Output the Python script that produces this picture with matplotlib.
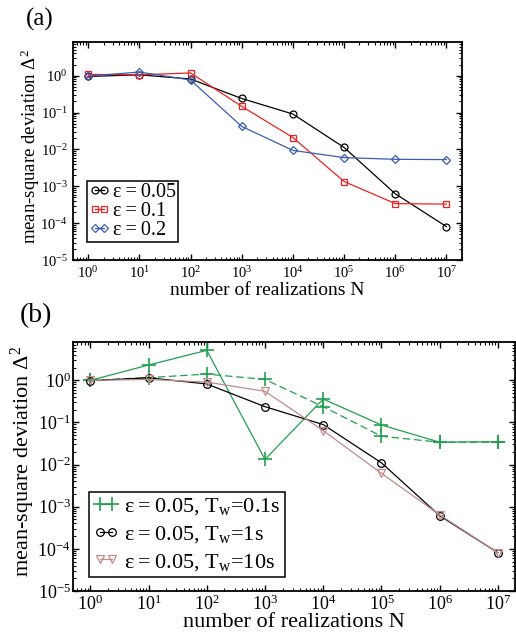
import numpy as np
import matplotlib
matplotlib.use("Agg")
import matplotlib.pyplot as plt
from matplotlib.ticker import LogLocator, NullFormatter

plt.rcParams['font.family'] = ['Liberation Serif', 'DejaVu Serif']
plt.rcParams['mathtext.fontset'] = 'custom'
plt.rcParams['mathtext.rm'] = 'Liberation Serif'
plt.rcParams['mathtext.it'] = 'Liberation Serif'

# number of realizations
N = [1e0, 1e1, 1e2, 1e3, 1e4, 1e5, 1e6, 1e7]

# panel (a): different epsilon
eps005 = [0.95, 1.05, 0.81, 0.24, 0.091, 0.0113, 6.3e-4, 8.1e-5]
eps01 = [1.08, 1.05, 1.18, 0.147, 0.021, 1.35e-3, 3.4e-4, 3.3e-4]
eps02 = [0.97, 1.25, 0.76, 0.042, 0.0094, 0.006, 0.0054, 0.0053]

# panel (b): eps = 0.05, different waiting times
tw01 = [1.0, 2.31, 5.15, 0.0133, 0.36, 0.087, 0.034, 0.035]
tw01_dash = [1.0, 1.16, 1.41, 1.05, 0.237, 0.047, 0.034, 0.034]
tw1 = [0.98, 1.15, 0.82, 0.237, 0.089, 0.011, 6.1e-4, 8.1e-5]
tw10 = [1.0, 1.05, 0.91, 0.55, 0.064, 0.0062, 6.4e-4, 8.1e-5]

GREEN = '#22a050'
RED = '#ee2222'
BLUE = '#3a5db0'
ROSE = '#c08a8a'
TS = '\u2009'  # thin space

fig = plt.figure(figsize=(5.16, 6.36), dpi=100)
axa = fig.add_axes([0.141, 0.591, 0.754, 0.3425])
axb = fig.add_axes([0.141, 0.0708, 0.858, 0.391])


def style(ax, fs, tfs, xpad, ypad, xl, yl):
    ax.set_xscale('log')
    ax.set_yscale('log')
    ax.set_xlim(0.5, 2e7)
    ax.set_ylim(1e-5, 8)
    ax.xaxis.set_major_locator(LogLocator(base=10, numticks=20))
    ax.yaxis.set_major_locator(LogLocator(base=10, numticks=20))
    ax.xaxis.set_minor_locator(LogLocator(base=10, subs=np.arange(2, 10), numticks=20))
    ax.yaxis.set_minor_locator(LogLocator(base=10, subs=np.arange(2, 10), numticks=20))
    ax.xaxis.set_minor_formatter(NullFormatter())
    ax.yaxis.set_minor_formatter(NullFormatter())
    ax.tick_params(which='both', direction='in', top=True, right=True, labelsize=tfs)
    ax.tick_params(which='major', length=4.5, width=1)
    ax.tick_params(which='minor', length=2.3, width=0.8)
    ax.tick_params(axis='x', pad=xpad)
    ax.tick_params(axis='y', pad=ypad)
    for s in ax.spines.values():
        s.set_linewidth(1.3)
    ax.set_xlabel('number of realizations N', fontsize=fs[0])
    ax.set_ylabel(r'mean-square deviation $\Delta^2$', fontsize=fs[1])
    ax.xaxis.set_label_coords(0.5, xl)
    ax.yaxis.set_label_coords(yl, 0.52)


style(axa, (14, 13.5), 10.5, 3.5, 3.5, -0.10, -0.080)
mk = dict(markerfacecolor='none', markeredgewidth=0.9, linewidth=0.9)
axa.plot(N, eps005, '-o', color='black', markersize=5, label=f'ε{TS}={TS}0.05', **mk)
axa.plot(N, eps01, '-s', color=RED, markersize=4.5, label=f'ε{TS}={TS}0.1', **mk)
axa.plot(N, eps02, '-D', color=BLUE, markersize=3.6, label=f'ε{TS}={TS}0.2', **mk)
leg = axa.legend(loc='lower left', bbox_to_anchor=(0.037, 0.083), fontsize=14.5, frameon=True,
                 fancybox=False, edgecolor='black', handlelength=1.05, handletextpad=0.15,
                 borderpad=0.1, labelspacing=0.0, borderaxespad=0, numpoints=2,
                 framealpha=1)
leg.get_frame().set_linewidth(1.1)

style(axb, (16, 16), 13, 2.5, 1.5, -0.088, -0.081)
axb.plot(N, tw01, '-+', color=GREEN, markersize=10, markeredgewidth=1.2, linewidth=0.9,
         label=f'ε{TS}={TS}0.05, T$_\\mathrm{{w}}$=0.1s')
axb.plot(N, tw01_dash, '--+', color=GREEN, markersize=10, markeredgewidth=1.2, linewidth=0.9,
         dashes=(6, 3))
axb.plot(N, tw1, '-o', color='black', markersize=5.5, label=f'ε{TS}={TS}0.05, T$_\\mathrm{{w}}$=1s', **mk)
axb.plot(N, tw10, '-v', color=ROSE, markersize=5.5, label=f'ε{TS}={TS}0.05, T$_\\mathrm{{w}}$=10s', **mk)
leg = axb.legend(loc='lower left', bbox_to_anchor=(0.037, 0.056), fontsize=16, frameon=True,
                 fancybox=False, edgecolor='black', handlelength=1.15, handletextpad=0.2,
                 borderpad=0.2, labelspacing=0.3, borderaxespad=0, numpoints=2,
                 framealpha=1)
leg.get_frame().set_linewidth(1.1)

fig.text(26 / 516, 1 - 8 / 636, '(a)', fontsize=18, va='top')
fig.text(20 / 516, 1 - 303 / 636, '(b)', fontsize=20, va='top')

fig.savefig('out.png', dpi=100)
